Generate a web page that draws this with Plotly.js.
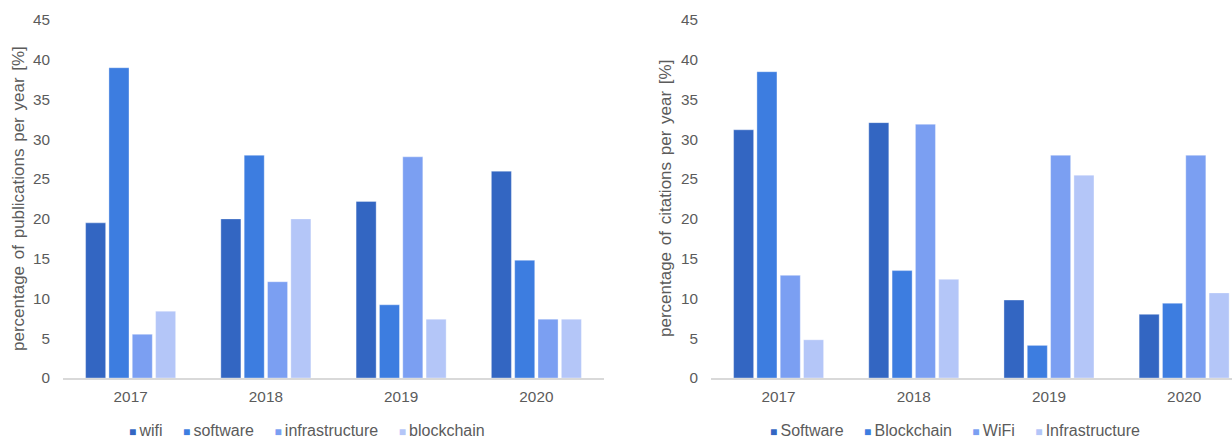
<!DOCTYPE html>
<html>
<head>
<meta charset="utf-8">
<script src="https://cdn.plot.ly/plotly-3.0.1.min.js"></script>
<style>
  html, body { margin: 0; padding: 0; background: #ffffff; }
  #chart { width: 1232px; height: 440px; }
  /* slightly looser word spacing on the rotated axis captions */
  #chart .annotation[data-index="0"] text,
  #chart .annotation[data-index="1"] text { word-spacing: 2px; }
</style>
</head>
<body>
<div id="chart"></div>
<script>
// Years shown on both category axes
const years = ['2017', '2018', '2019', '2020'];

// Share of publications per year [%]
const pubNames = ['wifi', 'software', 'infrastructure', 'blockchain'];
const pubWifi = [19.5, 20.0, 22.2, 26.0];
const pubSoftware = [39.0, 28.0, 9.2, 14.8];
const pubInfrastructure = [5.5, 12.1, 27.8, 7.4];
const pubBlockchain = [8.4, 20.0, 7.4, 7.4];

// Share of citations per year [%]
const citNames = ['Software', 'Blockchain', 'WiFi', 'Infrastructure'];
const citSoftware = [31.2, 32.1, 9.8, 8.0];
const citBlockchain = [38.5, 13.5, 4.1, 9.4];
const citWiFi = [12.9, 31.9, 28.0, 28.0];
const citInfrastructure = [4.8, 12.4, 25.5, 10.7];

const yTicks = [0, 5, 10, 15, 20, 25, 30, 35, 40, 45];

const palette = ['#3366c2', '#3d7de0', '#7b9ff2', '#b4c6f8'];
const textColor = '#5b5b5b';
const fontFamily = '"Liberation Sans", Arial, sans-serif';
const W = 1232;

function barTraces(names, series, xa, ya) {
  return series.map((vals, i) => ({
    type: 'bar',
    name: names[i],
    x: years,
    y: vals,
    xaxis: xa,
    yaxis: ya,
    showlegend: false,
    hoverinfo: 'skip',
    marker: { color: palette[i], line: { color: 'rgba(255,255,255,0.35)', width: 1 } }
  }));
}

function legendText(names) {
  return names.map((n, i) =>
    '<span style="color:' + palette[i] + ';font-size:12px">\u25A0</span>\u2009' + n
  ).join('\u2003\u00a0');
}

const data = [
  ...barTraces(pubNames, [pubWifi, pubSoftware, pubInfrastructure, pubBlockchain], 'x', 'y'),
  ...barTraces(citNames, [citSoftware, citBlockchain, citWiFi, citInfrastructure], 'x2', 'y2')
];

const xBase = {
  type: 'category',
  showline: true,
  linecolor: '#d9d9d9',
  linewidth: 2,
  ticks: '',
  showgrid: false,
  zeroline: false,
  ticklabelstandoff: 4,
  tickfont: { family: fontFamily, size: 15.3, color: textColor }
};
const yBase = {
  range: [0, 45],
  tickvals: yTicks,
  ticktext: yTicks.map(String),
  showgrid: false,
  zeroline: false,
  showline: false,
  ticks: '',
  ticklabelstandoff: 12,
  tickfont: { family: fontFamily, size: 15.3, color: textColor }
};

const layout = {
  width: W,
  height: 440,
  margin: { l: 0, r: 0, t: 20, b: 62 },
  paper_bgcolor: '#ffffff',
  plot_bgcolor: '#ffffff',
  font: { family: fontFamily, color: textColor },
  barmode: 'group',
  bargap: 0.31,
  bargroupgap: 0.14,
  xaxis: Object.assign({}, xBase, { domain: [63 / W, 604 / W], range: [-0.5, 3.5], anchor: 'y' }),
  yaxis: Object.assign({}, yBase, { anchor: 'x' }),
  xaxis2: Object.assign({}, xBase, { domain: [711 / W, 1], range: [-0.5, 3.354], anchor: 'y2' }),
  yaxis2: Object.assign({}, yBase, { anchor: 'x2' }),
  annotations: [
    {
      text: 'percentage of publications per year [%]',
      xref: 'paper', yref: 'paper', x: 18 / W, y: 0.5,
      xanchor: 'center', yanchor: 'middle', textangle: -90, showarrow: false,
      font: { family: fontFamily, size: 17, color: textColor }
    },
    {
      text: 'percentage of citations per year [%]',
      xref: 'paper', yref: 'paper', x: 665 / W, y: 0.5,
      xanchor: 'center', yanchor: 'middle', textangle: -90, showarrow: false,
      font: { family: fontFamily, size: 17, color: textColor }
    },
    {
      text: legendText(pubNames),
      xref: 'paper', yref: 'paper', x: 307 / W, y: -0.148,
      xanchor: 'center', yanchor: 'middle', showarrow: false,
      font: { family: fontFamily, size: 16, color: textColor }
    },
    {
      text: legendText(citNames),
      xref: 'paper', yref: 'paper', x: 954.5 / W, y: -0.148,
      xanchor: 'center', yanchor: 'middle', showarrow: false,
      font: { family: fontFamily, size: 16, color: textColor }
    }
  ]
};

Plotly.newPlot('chart', data, layout, { staticPlot: true, displayModeBar: false });
</script>
</body>
</html>
